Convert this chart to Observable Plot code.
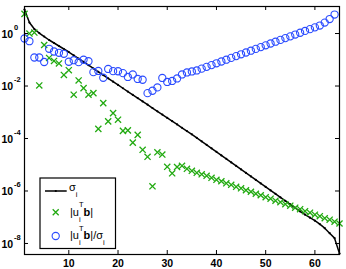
<!DOCTYPE html>
<html><head><meta charset="utf-8">
<script src="https://cdn.jsdelivr.net/npm/d3@7"></script>
<script src="https://cdn.jsdelivr.net/npm/@observablehq/plot@0.6"></script>
<style>body{margin:0;background:#fff}#chart{width:346px;height:269px}</style>
</head><body><div id="chart"></div>
<script>
// Values are stored as log10 exponents (index i = 1..65)
const sigmaLog10 = [0.913,0.418,0.171,0.019,-0.114,-0.247,-0.361,-0.475,-0.590,-0.704,
 -0.830,-0.955,-1.081,-1.206,-1.332,-1.457,-1.583,-1.708,-1.834,-1.959,
 -2.085,-2.210,-2.336,-2.461,-2.587,-2.712,-2.838,-2.963,-3.089,-3.214,
 -3.340,-3.465,-3.591,-3.716,-3.842,-3.975,-4.109,-4.242,-4.376,-4.509,
 -4.643,-4.776,-4.910,-5.043,-5.177,-5.310,-5.444,-5.577,-5.711,-5.844,
 -5.978,-6.111,-6.245,-6.378,-6.512,-6.645,-6.778,-6.903,-7.017,-7.131,
 -7.264,-7.417,-7.607,-7.797,-8.386];
const utbLog10 = [0.749,0.000,0.038,-1.978,-0.437,-0.932,-1.046,-1.141,-1.579,-1.396,
 -2.332,-1.788,-2.081,-2.332,-2.271,-3.633,-2.651,-3.347,-3.032,-3.283,
 -3.709,-3.690,-4.158,-3.861,-4.431,-4.698,-5.820,-4.526,-4.610,-5.078,
 -5.325,-5.086,-5.040,-5.154,-5.230,-5.306,-5.363,-5.420,-5.496,-5.572,
 -5.629,-5.706,-5.763,-5.839,-5.896,-5.972,-6.029,-6.105,-6.162,-6.238,
 -6.295,-6.371,-6.428,-6.504,-6.562,-6.638,-6.695,-6.771,-6.828,-6.904,
 -6.961,-7.037,-7.094,-7.170,-7.239];
const ratioLog10 = [-0.190,-0.293,-0.913,-0.913,-1.084,-0.582,-0.685,-0.734,-0.772,-1.076,
 -1.016,-1.092,-1.000,-1.054,-1.472,-1.426,-1.685,-1.350,-1.434,-1.438,
 -1.510,-1.655,-1.560,-1.731,-1.761,-2.271,-2.180,-2.054,-1.693,-1.845,
 -1.807,-1.712,-1.560,-1.483,-1.445,-1.407,-1.339,-1.270,-1.202,-1.134,
 -1.065,-0.997,-0.928,-0.860,-0.791,-0.723,-0.654,-0.586,-0.518,-0.449,
 -0.380,-0.312,-0.243,-0.175,-0.107,-0.038,0.030,0.099,0.167,0.236,
 0.304,0.418,0.552,0.723];
const xTicks = [10,20,30,40,50,60];
const yTickExps = [0,-2,-4,-6,-8];

const toRows = arr => arr.map((v,k) => ({i: k + 1, v: 10 ** v}));
const sigma = toRows(sigmaLog10), utb = toRows(utbLog10), ratio = toRows(ratioLog10);
const yTicks = yTickExps.map(e => 10 ** e);

const W = 346, H = 269, mL = 24, mR = 7, mT = 6, mB = 15;
const innerW = W - mL - mR, innerH = H - mT - mB, tk = 4;
const green = "#22aa11", blue = "#2a4bff";
const font = "'Liberation Sans', Arial, Helvetica, sans-serif";

const plot = Plot.plot({
  width: W, height: H, marginLeft: mL, marginRight: mR, marginTop: mT, marginBottom: mB,
  style: {fontFamily: font, fontSize: "10.5px", background: "white", color: "black", overflow: "visible"},
  x: {domain: [1, 65], axis: null, label: null},
  y: {type: "log", domain: [10 ** -8.42, 10 ** 1.03], axis: null, label: null},
  marks: [
    Plot.ruleX(xTicks, {x: d => d, insetTop: innerH - tk, stroke: "black"}),
    Plot.ruleX(xTicks, {x: d => d, insetBottom: innerH - tk, stroke: "black"}),
    Plot.ruleY(yTicks, {y: d => d, insetRight: innerW - tk, stroke: "black"}),
    Plot.ruleY(yTicks, {y: d => d, insetLeft: innerW - tk, stroke: "black"}),
    Plot.line(sigma, {x: "i", y: "v", stroke: "black", strokeWidth: 1.5}),
    Plot.dot(sigma, {x: "i", y: "v", r: 1.1, fill: "black"}),
    Plot.dot(utb, {x: "i", y: "v", symbol: "times", r: 2.9, stroke: green, strokeWidth: 1.3}),
    Plot.dot(ratio, {x: "i", y: "v", r: 3.6, stroke: blue, strokeWidth: 1.1, fill: "none"}),
    Plot.frame({stroke: "black", strokeWidth: 1.2}),
    Plot.axisX(xTicks, {tickSize: 0, tickPadding: 5, fontWeight: "bold", label: null}),
    Plot.text(yTicks, {y: d => d, text: () => "10", frameAnchor: "left", textAnchor: "start", dx: -23, dy: 1, fontWeight: "bold"}),
    Plot.text(yTicks, {y: d => d, text: d => String(Math.round(Math.log10(d))), frameAnchor: "left", textAnchor: "start", dx: -10.6, dy: -6, fontSize: 7.5, fontWeight: "bold"})
  ]
});
document.getElementById("chart").appendChild(plot);

// Legend (inside the axes, lower left)
const svg = d3.select(plot);
const g = svg.append("g").attr("font-family", font).attr("font-size", 11)
  .attr("fill", "black").attr("text-anchor", "start");
g.append("rect").attr("x", 40).attr("y", 178).attr("width", 75.5).attr("height", 70.5)
  .attr("fill", "white").attr("stroke", "black").attr("stroke-width", 1.2);
g.append("line").attr("x1", 45).attr("x2", 66.7).attr("y1", 191).attr("y2", 191)
  .attr("stroke", "black").attr("stroke-width", 1.5);
g.append("circle").attr("cx", 55.8).attr("cy", 191).attr("r", 1.1).attr("fill", "black");
g.append("path").attr("transform", "translate(55.7,212.3)").attr("d", "M-3,-3L3,3M-3,3L3,-3")
  .attr("stroke", green).attr("stroke-width", 1.3).attr("fill", "none");
g.append("circle").attr("cx", 55.7).attr("cy", 236).attr("r", 3.6)
  .attr("stroke", blue).attr("stroke-width", 1.1).attr("fill", "none");

const t1 = g.append("text").attr("x", 69).attr("y", 190.7);
t1.append("tspan").text("σ");
t1.append("tspan").attr("dy", 6).attr("font-size", 7.5).text("i");

function utbLabel(y, tail) {
  const t = g.append("text").attr("x", 70).attr("y", y);
  t.append("tspan").text("|u");
  t.append("tspan").attr("dy", 5.6).attr("font-size", 7.5).text("i");
  t.append("tspan").attr("dx", -1.7).attr("dy", -14.4).attr("font-size", 7.5).text("T");
  t.append("tspan").attr("dy", 8.8).attr("font-weight", "bold").text("b");
  t.append("tspan").text("|");
  if (tail) {
    t.append("tspan").text("/σ");
    t.append("tspan").attr("dy", 5.6).attr("font-size", 7.5).text("i");
  }
}
utbLabel(216, false);
utbLabel(239.4, true);
</script>
</body></html>
